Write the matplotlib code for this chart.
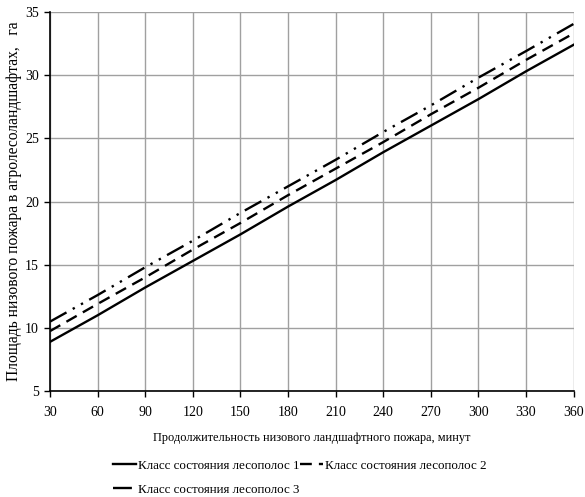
import matplotlib
matplotlib.use("Agg")
import matplotlib.pyplot as plt
from matplotlib.lines import Line2D

minutes = [30, 60, 90, 120, 150, 180, 210, 240, 270, 300, 330, 360]
class1 = [8.9, 11.0, 13.2, 15.3, 17.4, 19.6, 21.7, 23.9, 26.0, 28.1, 30.3, 32.4]
class2 = [9.75, 11.9, 14.0, 16.2, 18.3, 20.5, 22.6, 24.7, 26.9, 29.0, 31.2, 33.3]
class3 = [10.5, 12.6, 14.8, 16.9, 19.1, 21.2, 23.3, 25.5, 27.6, 29.8, 31.9, 34.05]
labels = ["Класс состояния лесополос 1", "Класс состояния лесополос 2", "Класс состояния лесополос 3"]
xlabel = "Продолжительность низового ландшафтного пожара, минут"
ylabel = "Площадь низового пожара в агролесоландшафтах,   га"

plt.rcParams['font.family'] = ['Liberation Serif', 'DejaVu Serif']

fig = plt.figure(figsize=(5.85, 4.97), dpi=100)
ax = fig.add_axes([0.0855, 0.213, 0.895, 0.763])

l1, = ax.plot(minutes, class1, color='black', lw=1.7, linestyle='-')
l2, = ax.plot(minutes, class2, color='black', lw=1.7, linestyle=(0, (5, 3)))
l3, = ax.plot(minutes, class3, color='black', lw=1.7, linestyle=(0, (8, 3, 1, 3, 1, 3)))

ax.set_xlim(30, 360)
ax.set_ylim(5, 35)
ax.set_xticks(range(30, 361, 30))
ax.set_yticks(range(5, 36, 5))
ax.grid(True, color='#a0a0a0', lw=1.0)
ax.set_axisbelow(True)
for s in ['top', 'right']:
    ax.spines[s].set_visible(False)
for s in ['left', 'bottom']:
    ax.spines[s].set_color('black')
    ax.spines[s].set_linewidth(1.2)
ax.tick_params(axis='both', direction='out', length=4, width=1, labelsize=10, colors='black')
ax.tick_params(axis='x', pad=7)
ax.tick_params(axis='y', pad=4)

ax.set_xlabel(xlabel, fontsize=8.9, labelpad=9)
ax.set_ylabel(ylabel, fontsize=11.2, labelpad=2)

handles = [l1, l3, l2]
hl = [labels[0], labels[2], labels[1]]
fig.legend(handles, hl, ncol=2, loc='upper left', bbox_to_anchor=(0.193, 0.075),
           frameon=False, fontsize=9.4, handlelength=1.8, handletextpad=0.1,
           columnspacing=0.05, labelspacing=0.9, borderaxespad=0, borderpad=0)

fig.savefig("out.png", dpi=100)
